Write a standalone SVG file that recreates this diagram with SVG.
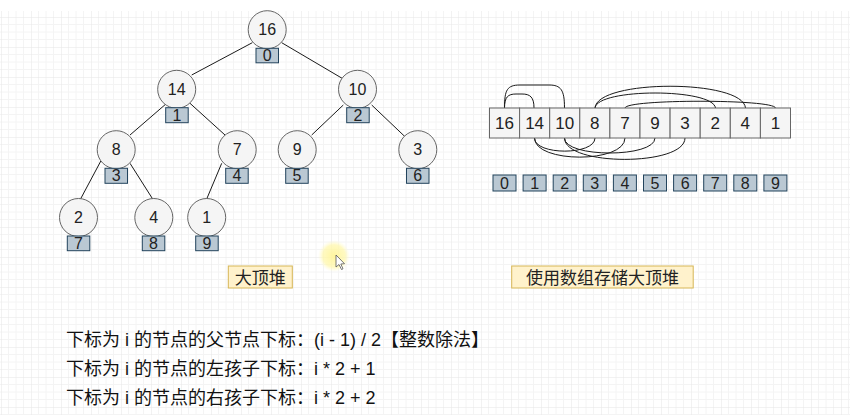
<svg xmlns="http://www.w3.org/2000/svg" width="850" height="415" viewBox="0 0 850 415">
<defs>
<pattern id="grid" patternUnits="userSpaceOnUse" x="1" y="17" width="30" height="30">
<path d="M7.5,0V30M15,0V30M22.5,0V30M0,7.5H30M0,15H30M0,22.5H30" stroke="#f4f4f4" stroke-width="1" fill="none"/>
<path d="M0,0V30M0,0H30" stroke="#e6e6e6" stroke-width="1" fill="none"/>
</pattern>
<radialGradient id="glow">
<stop offset="0" stop-color="#fff59a" stop-opacity="0.95"/>
<stop offset="0.7" stop-color="#fff7a8" stop-opacity="0.7"/>
<stop offset="1" stop-color="#fffbd0" stop-opacity="0"/>
</radialGradient>
<style>
.n circle{fill:#f5f5f5;stroke:#666666;stroke-width:1}
.t{font-family:"Liberation Sans","Noto Sans CJK SC",sans-serif;fill:#222;text-anchor:middle}
.v{font-size:16px}
.idx rect{fill:#bac8d3;stroke:#23445d;stroke-width:1}
.cell rect{fill:#f5f5f5;stroke:#666666;stroke-width:1}
.lbl rect{fill:#fff2cc;stroke:#d6b656;stroke-width:1}
.e{stroke:#1a1a1a;stroke-width:1;fill:none}
.f{font-family:"Liberation Sans","Noto Sans CJK SC",sans-serif;font-size:18px;fill:#111}
</style>
</defs>
<rect x="0" y="0" width="850" height="415" fill="#ffffff"/>
<rect x="0" y="11" width="850" height="404" fill="url(#grid)"/>

<g id="connectors">
<line class="e" x1="252.3" y1="42.7" x2="191.7" y2="75"/>
<line class="e" x1="281.7" y1="42.7" x2="343.3" y2="79"/>
<line class="e" x1="166.7" y1="103.3" x2="130" y2="135"/>
<line class="e" x1="190" y1="103.3" x2="225" y2="135"/>
<line class="e" x1="343.3" y1="105" x2="311.7" y2="135"/>
<line class="e" x1="371.7" y1="105" x2="405" y2="136.7"/>
<line class="e" x1="101" y1="160.7" x2="80" y2="200"/>
<line class="e" x1="130" y1="163.3" x2="153.3" y2="200"/>
<line class="e" x1="221.7" y1="163.3" x2="206.7" y2="199"/>
<path class="e" d="M504.5,108 C504.5,97 508,94 516,94 L522,94 C530,94 534,97 534,108"/>
<path class="e" d="M504.5,108 C504.5,90 507,85 520,85 L549,85 C561,85 564.5,90 564.5,108"/>
<path class="e" d="M595,108 C597,79 743,79 745.5,108"/>
<path class="e" d="M595,108 C597,88 713,88 715.5,108"/>
<path class="e" d="M625,108 C626,99 774,99 775.5,108"/>
<path class="e" d="M534.5,138 C534.5,155.5 595,155.5 595,138"/>
<path class="e" d="M534.5,138 C534.5,163.5 625,163.5 625,138"/>
<path class="e" d="M564.5,138 C564.5,158 655,158 655,138"/>
<path class="e" d="M564.5,138 C564.5,166.5 685,166.5 685,138"/>
</g>

<g id="node-16" class="n"><circle cx="267.2" cy="29.7" r="19"/><text class="t v" x="267.2" y="35.4">16</text></g>
<g id="node-14" class="n"><circle cx="176.7" cy="89.3" r="19"/><text class="t v" x="176.7" y="95">14</text></g>
<g id="node-10" class="n"><circle cx="357.5" cy="89.3" r="19"/><text class="t v" x="357.5" y="95">10</text></g>
<g id="node-8" class="n"><circle cx="116.2" cy="149.7" r="19"/><text class="t v" x="116.2" y="155.4">8</text></g>
<g id="node-7" class="n"><circle cx="237.2" cy="149.7" r="19"/><text class="t v" x="237.2" y="155.4">7</text></g>
<g id="node-9" class="n"><circle cx="297.2" cy="149.7" r="19"/><text class="t v" x="297.2" y="155.4">9</text></g>
<g id="node-3" class="n"><circle cx="417.8" cy="149.7" r="19"/><text class="t v" x="417.8" y="155.4">3</text></g>
<g id="node-2" class="n"><circle cx="78.5" cy="217.5" r="19"/><text class="t v" x="78.5" y="223.2">2</text></g>
<g id="node-4" class="n"><circle cx="153.8" cy="217.5" r="19"/><text class="t v" x="153.8" y="223.2">4</text></g>
<g id="node-1" class="n"><circle cx="206.7" cy="217.5" r="19"/><text class="t v" x="206.7" y="223.2">1</text></g>

<g id="tree-idx-0" class="idx"><rect x="256" y="48.3" width="22.5" height="14.5"/><text class="t v" x="267.2" y="61.2">0</text></g>
<g id="tree-idx-1" class="idx"><rect x="165.7" y="107.7" width="22.5" height="15"/><text class="t v" x="176.9" y="120.8">1</text></g>
<g id="tree-idx-2" class="idx"><rect x="346.7" y="107.7" width="22.5" height="15"/><text class="t v" x="357.9" y="120.8">2</text></g>
<g id="tree-idx-3" class="idx"><rect x="105" y="168.3" width="22.5" height="15"/><text class="t v" x="116.2" y="181.4">3</text></g>
<g id="tree-idx-4" class="idx"><rect x="225.7" y="168.3" width="22.5" height="15"/><text class="t v" x="236.9" y="181.4">4</text></g>
<g id="tree-idx-5" class="idx"><rect x="285.7" y="168.3" width="22.5" height="15"/><text class="t v" x="296.9" y="181.4">5</text></g>
<g id="tree-idx-6" class="idx"><rect x="406.5" y="168.3" width="22.5" height="15"/><text class="t v" x="417.7" y="181.4">6</text></g>
<g id="tree-idx-7" class="idx"><rect x="67.3" y="236" width="22.5" height="14.7"/><text class="t v" x="78.5" y="249">7</text></g>
<g id="tree-idx-8" class="idx"><rect x="142.3" y="236" width="22.5" height="14.7"/><text class="t v" x="153.5" y="249">8</text></g>
<g id="tree-idx-9" class="idx"><rect x="195.7" y="236" width="22.5" height="14.7"/><text class="t v" x="206.9" y="249">9</text></g>

<g id="array" class="cell">
<rect x="489.5" y="108" width="30.1" height="30"/><text class="t" font-size="17" x="504.5" y="129">16</text>
<rect x="519.6" y="108" width="30.1" height="30"/><text class="t" font-size="17" x="534.6" y="129">14</text>
<rect x="549.7" y="108" width="30.1" height="30"/><text class="t" font-size="17" x="564.7" y="129">10</text>
<rect x="579.8" y="108" width="30.1" height="30"/><text class="t" font-size="17" x="594.8" y="129">8</text>
<rect x="609.9" y="108" width="30.1" height="30"/><text class="t" font-size="17" x="624.9" y="129">7</text>
<rect x="640" y="108" width="30.1" height="30"/><text class="t" font-size="17" x="655" y="129">9</text>
<rect x="670.1" y="108" width="30.1" height="30"/><text class="t" font-size="17" x="685.1" y="129">3</text>
<rect x="700.2" y="108" width="30.1" height="30"/><text class="t" font-size="17" x="715.2" y="129">2</text>
<rect x="730.3" y="108" width="30.1" height="30"/><text class="t" font-size="17" x="745.3" y="129">4</text>
<rect x="760.4" y="108" width="30.1" height="30"/><text class="t" font-size="17" x="775.4" y="129">1</text>
</g>

<g id="array-idx" class="idx">
<rect x="493" y="175" width="23" height="16"/><text class="t v" x="504.5" y="188.7">0</text>
<rect x="523.1" y="175" width="23" height="16"/><text class="t v" x="534.6" y="188.7">1</text>
<rect x="553.2" y="175" width="23" height="16"/><text class="t v" x="564.7" y="188.7">2</text>
<rect x="583.3" y="175" width="23" height="16"/><text class="t v" x="594.8" y="188.7">3</text>
<rect x="613.4" y="175" width="23" height="16"/><text class="t v" x="624.9" y="188.7">4</text>
<rect x="643.5" y="175" width="23" height="16"/><text class="t v" x="655" y="188.7">5</text>
<rect x="673.6" y="175" width="23" height="16"/><text class="t v" x="685.1" y="188.7">6</text>
<rect x="703.7" y="175" width="23" height="16"/><text class="t v" x="715.2" y="188.7">7</text>
<rect x="733.8" y="175" width="23" height="16"/><text class="t v" x="745.3" y="188.7">8</text>
<rect x="763.9" y="175" width="23" height="16"/><text class="t v" x="775.4" y="188.7">9</text>
</g>

<g id="label-heap" class="lbl"><rect x="228.3" y="266" width="64" height="22"/><text class="t" font-size="17" x="260.3" y="283.5">大顶堆</text></g>
<g id="label-array" class="lbl"><rect x="511.7" y="266" width="181.5" height="22"/><text class="t" font-size="17" x="602.5" y="283.5">使用数组存储大顶堆</text></g>

<circle cx="334" cy="256" r="16" fill="url(#glow)"/>
<path d="M336,255 L336,267 L339,264.5 L341.5,269.5 L343,268.8 L340.8,264 L344.5,263.7 Z" fill="#ffffff" stroke="#555" stroke-width="0.8"/>

<g id="notes">
<text class="f" x="66" y="345.5">下标为 i 的节点的父节点下标：(i - 1) / 2【整数除法】</text>
<text class="f" x="66" y="374.5">下标为 i 的节点的左孩子下标：i * 2 + 1</text>
<text class="f" x="66" y="403.5">下标为 i 的节点的右孩子下标：i * 2 + 2</text>
</g>
</svg>
